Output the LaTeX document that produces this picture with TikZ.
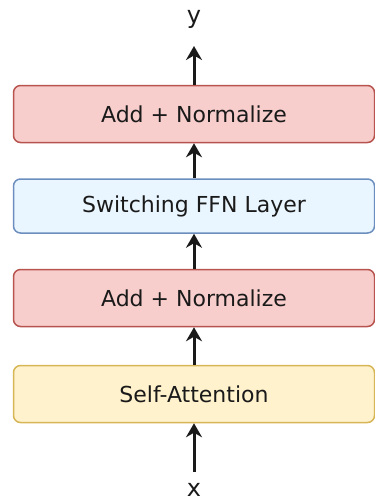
\documentclass[tikz,border=0pt]{standalone}
\usepackage{fontspec}
\setmainfont{DejaVu Sans}
\usetikzlibrary{arrows.meta}
\definecolor{anfill}{HTML}{F8CECC}
\definecolor{anline}{HTML}{B85450}
\definecolor{ffnfill}{HTML}{EAF6FF}
\definecolor{ffnline}{HTML}{6C8EBF}
\definecolor{safill}{HTML}{FFF2CC}
\definecolor{saline}{HTML}{D6B656}
\definecolor{ink}{HTML}{1A1A1A}
\begin{document}
\begin{tikzpicture}[x=1pt,y=-1pt,
  layer/.style={draw, line width=1.5pt, rounded corners=7pt, minimum width=361pt,
    minimum height=57pt, inner sep=0pt, font=\fontsize{22}{26}\selectfont, text=ink},
  addnorm/.style={layer, fill=anfill, draw=anline},
  ffn/.style={layer, fill=ffnfill, draw=ffnline},
  attn/.style={layer, fill=safill, draw=saline},
  flow/.style={-{Stealth[length=14pt,width=16pt]}, line width=3pt, ink},
  io/.style={font=\fontsize{24}{28}\selectfont, text=ink}]
\useasboundingbox (0,0) rectangle (375,504);
\node[io] (y) at (194,19) {y};
\node[addnorm] (an1) at (194,114) {Add + Normalize};
\node[ffn, minimum height=54pt] (ffn) at (194,206) {Switching FFN Layer};
\node[addnorm] (an2) at (194,298) {Add + Normalize};
\node[attn] (sa) at (194,394) {Self-Attention};
\node[io] (x) at (194,490) {x};
\coordinate (xin) at (194,472);
\coordinate (yout) at (194,46);
\draw[flow] (xin) -- (sa.south);
\draw[flow] (sa.north) -- (an2.south);
\draw[flow] (an2.north) -- (ffn.south);
\draw[flow] (ffn.north) -- (an1.south);
\draw[flow] (an1.north) -- (yout);
\end{tikzpicture}
\end{document}
